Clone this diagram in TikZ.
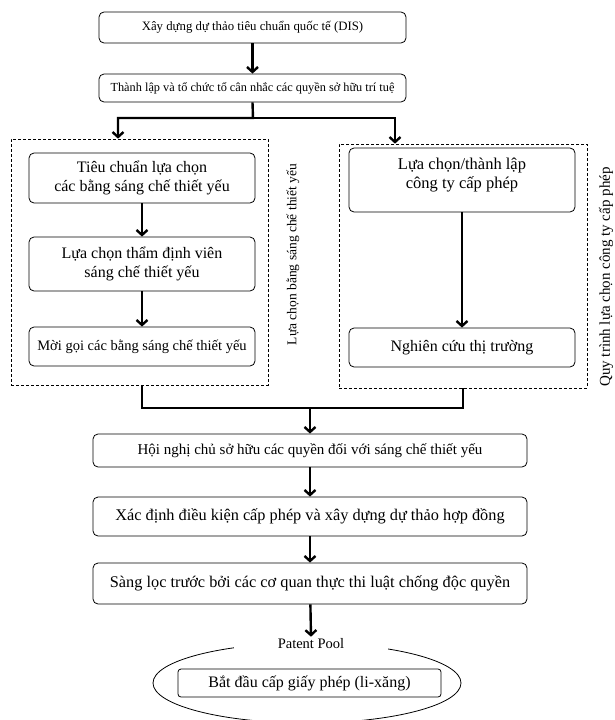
\documentclass[tikz,border=0pt]{standalone}
\usepackage{fontspec}
\setmainfont{Liberation Serif}
\usetikzlibrary{shapes.geometric,arrows.meta}

\begin{document}
\begin{tikzpicture}[x=1pt,y=-1pt,>={Straight Barb[length=5pt,width=11pt]}]
   \tikzstyle{every node}=[inner sep=2pt]
   \tikzstyle{boks}=[draw,rounded corners=5pt,align=center,line width=0.8pt,minimum width=226,font=\fontsize{16}{19}\selectfont]
   \tikzstyle{brei}=[boks,minimum width=434]
   \tikzstyle{ramme}=[draw,dashed,line width=0.7pt,dash pattern=on 3pt off 2pt]
   \tikzstyle{linje}=[line width=2.4pt]
   \tikzstyle{pil}=[linje,->]
   \useasboundingbox (0,0) rectangle (615,720);
   \clip (0,0) rectangle (615,720);

   \node (dis) [boks,minimum width=307,minimum height=31,font=\fontsize{12.8}{15}\selectfont] at (252.5,27.5) {Xây dựng dự thảo tiêu chuẩn quốc tế (DIS)} ;
   \node (ipr) [boks,minimum width=307,minimum height=28,font=\fontsize{12.3}{15}\selectfont] at (252.5,88) {Thành lập và tổ chức tổ cân nhắc các quyền sở hữu trí tuệ} ;

   \node (venstre) [ramme,minimum width=257,minimum height=246] at (139.5,262) {} ;
   \node (hogre) [ramme,minimum width=248,minimum height=244] at (463,266) {} ;

   \node (krit) [boks,minimum height=50] at (142,178) {Tiêu chuẩn lựa chọn\\các bằng sáng chế thiết yếu} ;
   \node (vald) [boks,minimum height=54] at (142,264) {Lựa chọn thẩm định viên\\sáng chế thiết yếu} ;
   \node (moi) [boks,minimum height=39,font=\fontsize{14.5}{17}\selectfont] at (142,346.5) {Mời gọi các bằng sáng chế thiết yếu} ;
   \node (lbl1) [rotate=90,font=\fontsize{13.5}{16}\selectfont] at (293,254.5) {Lựa chọn bằng sáng chế thiết yếu} ;

   \node (firma) [boks,minimum height=64,text depth=14pt,font=\fontsize{16.5}{19}\selectfont] at (462,180) {Lựa chọn/thành lập\\công ty cấp phép} ;
   \node (marked) [boks,minimum height=39] at (462,347.5) {Nghiên cứu thị trường} ;
   \node (lbl2) [rotate=90,font=\fontsize{15}{17}\selectfont] at (606,277) {Quy trình lựa chọn công ty cấp phép} ;

   \node (mote) [brei,minimum height=33,font=\fontsize{15}{17}\selectfont] at (310,450.5) {Hội nghị chủ sở hữu các quyền đối với sáng chế thiết yếu} ;
   \node (vilkar) [brei,minimum height=39,font=\fontsize{16.3}{19}\selectfont] at (310,516.5) {Xác định điều kiện cấp phép và xây dựng dự thảo hợp đồng} ;
   \node (screen) [brei,minimum height=41,font=\fontsize{16.3}{19}\selectfont] at (310,583.5) {Sàng lọc trước bởi các cơ quan thực thi luật chống độc quyền} ;

   \node (pool) [draw,ellipse,line width=0.8pt,minimum width=308,minimum height=80] at (307,683) {} ;
   \node (pooltekst) [fill=white,minimum width=154,minimum height=14,font=\fontsize{14.5}{16}\selectfont] at (311,644) {Patent Pool} ;
   \node (start) [boks,rounded corners=3pt,minimum width=263,minimum height=28] at (309.5,683) {Bắt đầu cấp giấy phép (li-xăng)} ;

   \coordinate (del) at (253,118) ;
   \coordinate (samle) at (310,408) ;

   \draw [pil] (dis) -- (ipr) ;
   \draw [pil] (ipr.south) -- (del) -| ([xshift=-21.5pt]venstre.north) ;
   \draw [pil] (del) -| ([xshift=-68pt]hogre.north) ;
   \draw [pil] (krit) -- (vald) ;
   \draw [pil] (vald) -- (moi) ;
   \draw [pil] (firma) -- (marked) ;
   \draw [linje] (venstre.south -| moi.south) |- (samle) -| (hogre.south) ;
   \draw [pil] (samle) -- (mote.north) ;
   \draw [pil] (mote) -- (vilkar) ;
   \draw [pil] (vilkar) -- (screen) ;
   \draw [pil] (screen) -- (pooltekst.north) ;

\end{tikzpicture}
\end{document}
